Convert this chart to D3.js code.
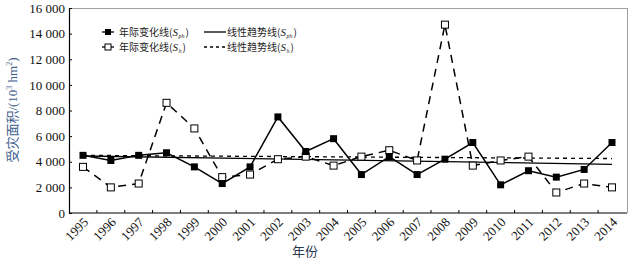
<!DOCTYPE html>
<html><head><meta charset="utf-8">
<script src="https://cdn.jsdelivr.net/npm/d3@7"></script>
<style>
body{margin:0;background:#fff;}
svg text{font-family:"Liberation Serif","Times New Roman",serif;}
.cjk{font-family:"Noto Sans CJK SC",sans-serif;}
</style></head><body>
<svg id="c" width="635" height="261"></svg>
<script>
const years = ["1995","1996","1997","1998","1999","2000","2001","2002","2003","2004","2005","2006","2007","2008","2009","2010","2011","2012","2013","2014"];
const seriesP = [4500,4100,4500,4700,3600,2300,3600,7500,4800,5800,3000,4400,3000,4200,5500,2200,3300,2800,3400,5500];
const seriesH = [3600,2000,2300,8600,6600,2800,3000,4200,4400,3700,4400,4900,4100,14700,3700,4100,4400,1600,2300,2000];
const trendP = [4450,3800];
const trendH = [4500,4250];
const yTicks = [0,2000,4000,6000,8000,10000,12000,14000,16000];
const yTickLabels = ["0","2 000","4 000","6 000","8 000","10 000","12 000","14 000","16 000"];

const svg = d3.select("#c");
const L=69,R=627,T=8,B=213;
const x = d3.scalePoint().domain(years).range([83,612]);
const y = d3.scaleLinear().domain([0,16000]).range([B,T]);
const step = x.step();

// frame
svg.append("line").attr("x1",L).attr("x2",R).attr("y1",T+0.5).attr("y2",T+0.5).attr("stroke","#a0a0a0");
svg.append("line").attr("x1",R+0.5).attr("x2",R+0.5).attr("y1",T).attr("y2",B).attr("stroke","#a0a0a0");

// y axis
const ya = svg.append("g").attr("transform",`translate(${L},0)`)
  .call(d3.axisLeft(y).tickValues(yTicks).tickSize(-3).tickPadding(4).tickFormat((d,i)=>yTickLabels[i]));
ya.select(".domain").attr("stroke","#000").attr("stroke-width",1.2);
ya.selectAll("text").attr("font-size",13).attr("fill","#111").attr("font-family","Liberation Serif");

// x axis baseline and ticks between categories
svg.append("line").attr("x1",L).attr("x2",R).attr("y1",B).attr("y2",B).attr("stroke","#000").attr("stroke-width",1.2);
const mids = years.slice(1).map(yr=>x(yr)-step/2);
svg.selectAll(".xt").data(mids).enter().append("line")
  .attr("x1",d=>d).attr("x2",d=>d).attr("y1",B).attr("y2",B-3).attr("stroke","#000");
svg.selectAll(".xl").data(years).enter().append("text")
  .attr("transform",d=>`translate(${x(d)+6},${B+10}) rotate(-45)`)
  .attr("text-anchor","end").attr("font-size",13).attr("fill","#111").text(d=>d);

// trend lines
svg.append("line").attr("x1",x(years[0])).attr("x2",x(years[years.length-1]))
  .attr("y1",y(trendP[0])).attr("y2",y(trendP[1])).attr("stroke","#000").attr("stroke-width",1.3);
svg.append("line").attr("x1",x(years[0])).attr("x2",x(years[years.length-1]))
  .attr("y1",y(trendH[0])).attr("y2",y(trendH[1])).attr("stroke","#000").attr("stroke-width",1.3).attr("stroke-dasharray","4,4");

const line = d3.line().x((d,i)=>x(years[i])).y(d=>y(d));
svg.append("path").datum(seriesH).attr("d",line).attr("fill","none").attr("stroke","#000").attr("stroke-width",1.5).attr("stroke-dasharray","8,6");
svg.append("path").datum(seriesP).attr("d",line).attr("fill","none").attr("stroke","#000").attr("stroke-width",1.5);

const ms=7;
svg.selectAll(".mh").data(seriesH).enter().append("rect")
  .attr("x",(d,i)=>x(years[i])-ms/2).attr("y",d=>y(d)-ms/2).attr("width",ms).attr("height",ms)
  .attr("fill","#fff").attr("stroke","#000").attr("stroke-width",1);
svg.selectAll(".mp").data(seriesP).enter().append("rect")
  .attr("x",(d,i)=>x(years[i])-ms/2).attr("y",d=>y(d)-ms/2).attr("width",ms).attr("height",ms)
  .attr("fill","#000");

// legend: pieces as separate texts laid out by measured width
const lg = svg.append("g");
function legText(xp,yp,main,sub){
  let cx = xp;
  const a = lg.append("text").attr("x",cx).attr("y",yp).attr("font-size",10).attr("fill","#222").attr("class","cjk").text(main+"(");
  cx += a.node().getComputedTextLength();
  const s = lg.append("text").attr("x",cx).attr("y",yp).attr("font-size",11).attr("font-style","italic").attr("fill","#222").text("S");
  cx += s.node().getComputedTextLength()+0.5;
  const b = lg.append("text").attr("x",cx).attr("y",yp+2).attr("font-size",6).attr("font-style","italic").attr("fill","#222").text(sub);
  cx += b.node().getComputedTextLength()+1;
  lg.append("text").attr("x",cx).attr("y",yp).attr("font-size",10).attr("fill","#222").attr("class","cjk").text(")");
}
const r1=32, r2=47;
lg.append("line").attr("x1",102).attr("x2",114).attr("y1",r1).attr("y2",r1).attr("stroke","#000").attr("stroke-width",1.3);
lg.append("rect").attr("x",105).attr("y",r1-3).attr("width",6).attr("height",6).attr("fill","#000");
legText(119,r1+3.5,"年际变化线","ph");
lg.append("line").attr("x1",102).attr("x2",114).attr("y1",r2).attr("y2",r2).attr("stroke","#000").attr("stroke-width",1.3);
lg.append("rect").attr("x",105).attr("y",r2-3).attr("width",6).attr("height",6).attr("fill","#fff").attr("stroke","#000");
legText(119,r2+3.5,"年际变化线","h");
lg.append("line").attr("x1",204).attr("x2",226).attr("y1",r1).attr("y2",r1).attr("stroke","#000").attr("stroke-width",1.3);
legText(227,r1+3.5,"线性趋势线","ph");
lg.append("line").attr("x1",204).attr("x2",226).attr("y1",r2).attr("y2",r2).attr("stroke","#000").attr("stroke-width",1.3).attr("stroke-dasharray","3,3");
legText(227,r2+3.5,"线性趋势线","h");

// axis titles
const yl = svg.append("text").attr("transform","translate(17,110) rotate(-90)").attr("text-anchor","middle")
  .attr("font-size",13).attr("fill","#3d5d8c");
yl.append("tspan").attr("class","cjk").text("受灾面积");
yl.append("tspan").text("/(10");
yl.append("tspan").attr("font-size",8).attr("dy",-5).text("3");
yl.append("tspan").attr("dy",5).text(" hm");
yl.append("tspan").attr("font-size",8).attr("dy",-5).text("2");
yl.append("tspan").attr("dy",5).text(")");
svg.append("text").attr("x",305).attr("y",256).attr("text-anchor","middle").attr("class","cjk")
  .attr("font-size",13).attr("fill","#2a3550").text("年份");
</script></body></html>
